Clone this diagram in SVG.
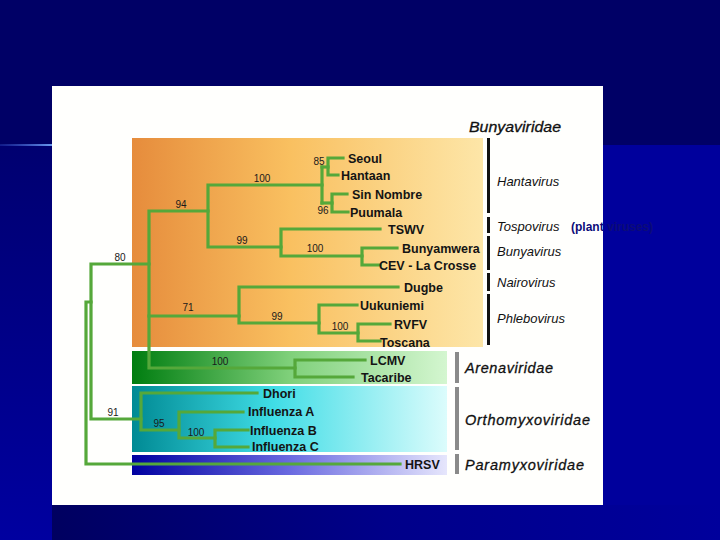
<svg xmlns="http://www.w3.org/2000/svg" width="720" height="540" viewBox="0 0 720 540">
<defs>
<linearGradient id="gLeft" x1="0" y1="0" x2="0" y2="1"><stop offset="0" stop-color="#000070"/><stop offset="1" stop-color="#0000a0"/></linearGradient>
<linearGradient id="gBottom" x1="0" y1="0" x2="1" y2="0"><stop offset="0" stop-color="#000060"/><stop offset="0.5" stop-color="#00008a"/><stop offset="1" stop-color="#00009c"/></linearGradient>
<linearGradient id="gGlow" x1="0" y1="0" x2="1" y2="0"><stop offset="0" stop-color="#3a5ad0" stop-opacity="0.3"/><stop offset="1" stop-color="#6a9af0"/></linearGradient>
<linearGradient id="gOrange" x1="0" y1="0" x2="1" y2="0"><stop offset="0" stop-color="#e68c3c"/><stop offset="0.45" stop-color="#f9c060"/><stop offset="1" stop-color="#fde6a8"/></linearGradient>
<linearGradient id="gGreen" x1="0" y1="0" x2="1" y2="0"><stop offset="0" stop-color="#007d10"/><stop offset="0.5" stop-color="#7fd07a"/><stop offset="1" stop-color="#d4f6d0"/></linearGradient>
<linearGradient id="gCyan" x1="0" y1="0" x2="1" y2="0"><stop offset="0" stop-color="#008a94"/><stop offset="0.45" stop-color="#40dde6"/><stop offset="1" stop-color="#dcfcfc"/></linearGradient>
<linearGradient id="gBlue" x1="0" y1="0" x2="1" y2="0"><stop offset="0" stop-color="#0000a0"/><stop offset="0.5" stop-color="#6a6ae0"/><stop offset="1" stop-color="#e6e6fc"/></linearGradient>
<style>
.ln{fill:none;stroke:#55a83a;stroke-width:3.2;stroke-linecap:square;stroke-linejoin:miter}
.tip{font-family:"Liberation Sans",Arial,sans-serif;font-size:12.5px;font-weight:bold;fill:#141414}
.bs{font-family:"Liberation Sans",Arial,sans-serif;font-size:10px;fill:#1a1a1a;text-anchor:middle}
.gen{font-family:"Liberation Sans",Arial,sans-serif;font-size:13px;font-style:italic;fill:#111}
.fam{font-family:"Liberation Sans",Arial,sans-serif;font-size:14.5px;font-style:italic;fill:#111;stroke:#111;stroke-width:0.3}
.bar{fill:#111}
.gbar{fill:#8a8a8a}
</style>
</defs>
<!-- background -->
<rect x="0" y="0" width="720" height="540" fill="#000066"/>
<rect x="0" y="145" width="720" height="395" fill="#00009c"/>
<rect x="0" y="145" width="52" height="395" fill="url(#gLeft)"/>
<rect x="52" y="505" width="668" height="35" fill="url(#gBottom)"/>
<rect x="0" y="144" width="52" height="2" fill="url(#gGlow)"/>
<!-- white panel -->
<rect x="52" y="86" width="551" height="419" fill="#fffffd"/>
<!-- colored panels -->
<rect x="132" y="138" width="351" height="209" fill="url(#gOrange)"/>
<rect x="132" y="351" width="315" height="33" fill="url(#gGreen)"/>
<rect x="132" y="386" width="315" height="66" fill="url(#gCyan)"/>
<rect x="132" y="455" width="315" height="20" fill="url(#gBlue)"/>
<!-- classification bars -->
<g id="bars">
<rect class="bar" x="487" y="138" width="3" height="75"/>
<rect class="bar" x="487" y="217" width="3" height="16"/>
<rect class="bar" x="487" y="236" width="3" height="34"/>
<rect class="bar" x="487" y="273" width="3" height="18"/>
<rect class="bar" x="487" y="294" width="3" height="51"/>
<rect class="gbar" x="455" y="352" width="4" height="31"/>
<rect class="gbar" x="455" y="387" width="4" height="63"/>
<rect class="gbar" x="455" y="454" width="4" height="20"/>
</g>
<!-- connectors -->
<g id="connectors">
<path class="ln" d="M400,464 H86 V302 H91"/>
<path class="ln" d="M149,264 H91 V419 H141"/>
<path class="ln" d="M208,211 H149 V368 H295"/>
<path class="ln" d="M149,316 H239"/>
<path class="ln" d="M322,185 H208 V247 H281"/>
<path class="ln" d="M322,167 V203"/>
<path class="ln" d="M322,167 H328"/>
<path class="ln" d="M322,203 H332"/>
<path class="ln" d="M343,158 H328 V175 H338"/>
<path class="ln" d="M347,194 H332 V212 H348"/>
<path class="ln" d="M380,229 H281 V256 H362"/>
<path class="ln" d="M397,248 H362 V265 H380"/>
<path class="ln" d="M398,287 H239 V323 H319"/>
<path class="ln" d="M357,305 H319 V333 H358"/>
<path class="ln" d="M390,324 H358 V341 H380"/>
<path class="ln" d="M365,360 H295 V377 H353"/>
<path class="ln" d="M257,393 H141 V430 H179"/>
<path class="ln" d="M243,412 H179 V438 H215"/>
<path class="ln" d="M248,430 H215 V447 H248"/>
</g>
<!-- support values -->
<g id="support">
<text class="bs" x="319" y="165">85</text>
<text class="bs" x="262" y="182">100</text>
<text class="bs" x="181" y="208">94</text>
<text class="bs" x="242" y="244">99</text>
<text class="bs" x="323" y="214">96</text>
<text class="bs" x="315" y="252">100</text>
<text class="bs" x="120" y="261">80</text>
<text class="bs" x="188" y="311">71</text>
<text class="bs" x="277" y="320">99</text>
<text class="bs" x="340" y="330">100</text>
<text class="bs" x="220" y="365">100</text>
<text class="bs" x="113" y="416">91</text>
<text class="bs" x="159" y="427">95</text>
<text class="bs" x="196" y="436">100</text>
</g>
<!-- tips -->
<g id="n-seoul"><text class="tip" x="348" y="163">Seoul</text></g>
<g id="n-hantaan"><text class="tip" x="341" y="180">Hantaan</text></g>
<g id="n-sinnombre"><text class="tip" x="352" y="199">Sin Nombre</text></g>
<g id="n-puumala"><text class="tip" x="350" y="217">Puumala</text></g>
<g id="n-tswv"><text class="tip" x="388" y="234">TSWV</text></g>
<g id="n-bunyamwera"><text class="tip" x="402" y="253">Bunyamwera</text></g>
<g id="n-cev"><text class="tip" x="379" y="270">CEV - La Crosse</text></g>
<g id="n-dugbe"><text class="tip" x="404" y="292">Dugbe</text></g>
<g id="n-uukuniemi"><text class="tip" x="360" y="310">Uukuniemi</text></g>
<g id="n-rvfv"><text class="tip" x="394" y="329">RVFV</text></g>
<g id="n-toscana"><text class="tip" x="380" y="347">Toscana</text></g>
<g id="n-lcmv"><text class="tip" x="370" y="365">LCMV</text></g>
<g id="n-tacaribe"><text class="tip" x="361" y="382" font-weight="normal">Tacaribe</text></g>
<g id="n-dhori"><text class="tip" x="263" y="398">Dhori</text></g>
<g id="n-flua"><text class="tip" x="248" y="416">Influenza A</text></g>
<g id="n-flub"><text class="tip" x="250" y="435">Influenza B</text></g>
<g id="n-fluc"><text class="tip" x="252" y="451">Influenza C</text></g>
<g id="n-hrsv"><text class="tip" x="405" y="469">HRSV</text></g>
<!-- group labels -->
<g id="labels">
<text class="fam" x="469" y="132" textLength="92" lengthAdjust="spacingAndGlyphs">Bunyaviridae</text>
<text class="gen" x="497" y="186">Hantavirus</text>
<text class="gen" x="497" y="231">Tospovirus</text>
<text x="571" y="231" font-family="Liberation Sans, Arial, sans-serif" font-size="12" font-weight="bold" fill="#0c0c78">(plant viruses)</text>
<text class="gen" x="497" y="256">Bunyavirus</text>
<text class="gen" x="497" y="287">Nairovirus</text>
<text class="gen" x="497" y="323">Phlebovirus</text>
<text class="fam" x="465" y="373" textLength="88" lengthAdjust="spacing">Arenaviridae</text>
<text class="fam" x="465" y="425" textLength="125" lengthAdjust="spacing">Orthomyxoviridae</text>
<text class="fam" x="465" y="470" textLength="119" lengthAdjust="spacing">Paramyxoviridae</text>
</g>
</svg>
